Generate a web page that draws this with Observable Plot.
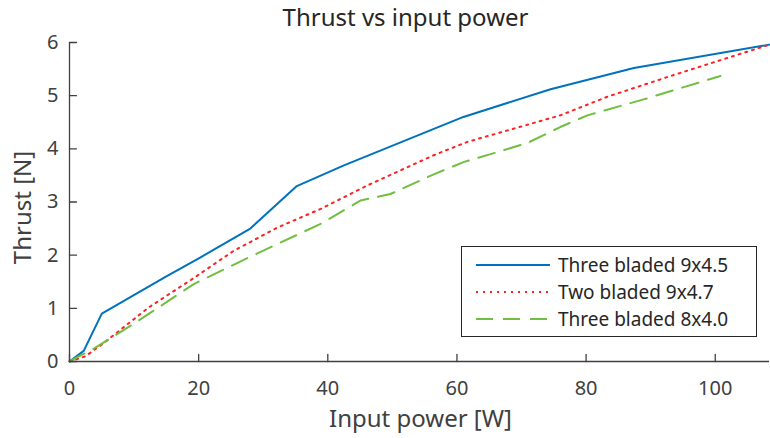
<!DOCTYPE html>
<html>
<head>
<meta charset="utf-8">
<script src="https://cdn.jsdelivr.net/npm/d3@7"></script>
<script src="https://cdn.jsdelivr.net/npm/@observablehq/plot@0.6"></script>
<style>
  html, body { margin: 0; padding: 0; background: #fff; }
  #chart { width: 770px; height: 438px; }
</style>
</head>
<body>
<div id="chart"></div>
<script>
// ---- data ----
const seriesNames = ["Three bladed 9x4.5", "Two bladed 9x4.7", "Three bladed 8x4.0"];
const seriesColors = ["#0072BD", "#FF2020", "#70BF41"];
const seriesDash = [null, "2,5", "17,10"];

const powerA = [0, 2.2, 5, 15, 20.3, 28, 35.2, 42.5, 61, 74.5, 87.4, 108.4];
const thrustA = [0, 0.2, 0.9, 1.6, 1.96, 2.5, 3.3, 3.69, 4.6, 5.12, 5.52, 5.96];

const powerB = [0, 2.5, 5, 12.3, 19, 25.4, 32.2, 38.9, 46.1, 56.4, 61.6, 76, 83.3, 93.6, 108.4];
const thrustB = [0, 0.1, 0.32, 1.02, 1.55, 2.08, 2.52, 2.87, 3.31, 3.88, 4.13, 4.63, 4.98, 5.39, 5.96];

const powerC = [0, 4, 10.2, 19.3, 27.8, 38.9, 42, 45.1, 49.7, 56.4, 61, 65.2, 70.9, 76, 80.2, 88.9, 100.8];
const thrustC = [0, 0.26, 0.73, 1.46, 1.96, 2.59, 2.81, 3.03, 3.15, 3.52, 3.75, 3.9, 4.11, 4.41, 4.63, 4.93, 5.37];

const xTicks = [0, 20, 40, 60, 80, 100];
const yTicks = [0, 1, 2, 3, 4, 5, 6];
const title = "Thrust vs input power";
const xLabel = "Input power [W]";
const yLabel = "Thrust [N]";

// ---- build table ----
const table = [];
[[powerA, thrustA], [powerB, thrustB], [powerC, thrustC]].forEach(([xs, ys], i) => {
  xs.forEach((x, j) => table.push({series: seriesNames[i], x, y: ys[j]}));
});

const axisColor = "#404040";
const font = "Noto Sans";

const lineMarks = seriesNames.map((name, i) =>
  Plot.line(table.filter(d => d.series === name), {
    x: "x", y: "y",
    stroke: seriesColors[i],
    strokeWidth: 2,
    strokeDasharray: seriesDash[i]
  })
);

// inward tick shape: a straight segment of length l from the anchor point
const tickShape = {draw(context, l) { context.moveTo(0, 0); context.lineTo(0, -l); }};

const chart = Plot.plot({
  width: 770,
  height: 438,
  marginLeft: 69,
  marginRight: 1,
  marginTop: 42,
  marginBottom: 77,
  style: {fontFamily: font, background: "#fff", color: axisColor},
  x: {domain: [0, 108.4], label: null},
  y: {domain: [0, 6], label: null},
  marks: [
    ...lineMarks,
    Plot.ruleY([0], {stroke: axisColor, strokeWidth: 1.3}),
    Plot.ruleX([0], {stroke: axisColor, strokeWidth: 1.3}),
    Plot.vector(xTicks, {x: d => d, y: 0, length: 7, rotate: 0, anchor: "start", shape: tickShape, stroke: axisColor, strokeWidth: 1.3}),
    Plot.vector(yTicks, {x: 0, y: d => d, length: 7, rotate: 90, anchor: "start", shape: tickShape, stroke: axisColor, strokeWidth: 1.3}),
    Plot.axisX(xTicks, {tickSize: 0, tickPadding: 19, fontSize: 20, fill: axisColor, tickFormat: d => String(d)}),
    Plot.axisY(yTicks, {tickSize: 0, tickPadding: 11, fontSize: 20, fill: axisColor, tickFormat: d => String(d)}),
    Plot.text([xLabel], {frameAnchor: "bottom", dx: 1, dy: 58, fontSize: 24, fill: axisColor, lineAnchor: "middle"}),
    Plot.text([title], {frameAnchor: "top", dx: -14, dy: -24, fontSize: 24, fill: "#262626", lineAnchor: "middle"})
  ]
});

document.getElementById("chart").appendChild(chart);

const svg = d3.select(chart);

// ---- y-axis label (explicit placement) ----
svg.append("text")
  .attr("transform", "translate(23,207.5) rotate(-90)")
  .attr("text-anchor", "middle")
  .attr("dy", "0.35em")
  .attr("font-family", font)
  .attr("font-size", 24)
  .attr("fill", axisColor)
  .text(yLabel);

// ---- legend ----
const lg = svg.append("g").attr("class", "legend").attr("font-family", font).attr("text-anchor", "start");
lg.append("rect").attr("x", 461.5).attr("y", 246.5).attr("width", 295).attr("height", 90)
  .attr("fill", "#fff").attr("stroke", "#262626").attr("stroke-width", 1);
seriesNames.forEach((name, i) => {
  const cy = 265 + i * 27;
  lg.append("line").attr("x1", 476).attr("x2", 550).attr("y1", cy).attr("y2", cy)
    .attr("stroke", seriesColors[i]).attr("stroke-width", 2)
    .attr("stroke-dasharray", seriesDash[i]);
  lg.append("text").attr("x", 558).attr("y", cy).attr("dy", "0.35em")
    .attr("text-anchor", "start")
    .attr("font-size", 19).attr("fill", "#262626").text(name);
});
</script>
</body>
</html>
